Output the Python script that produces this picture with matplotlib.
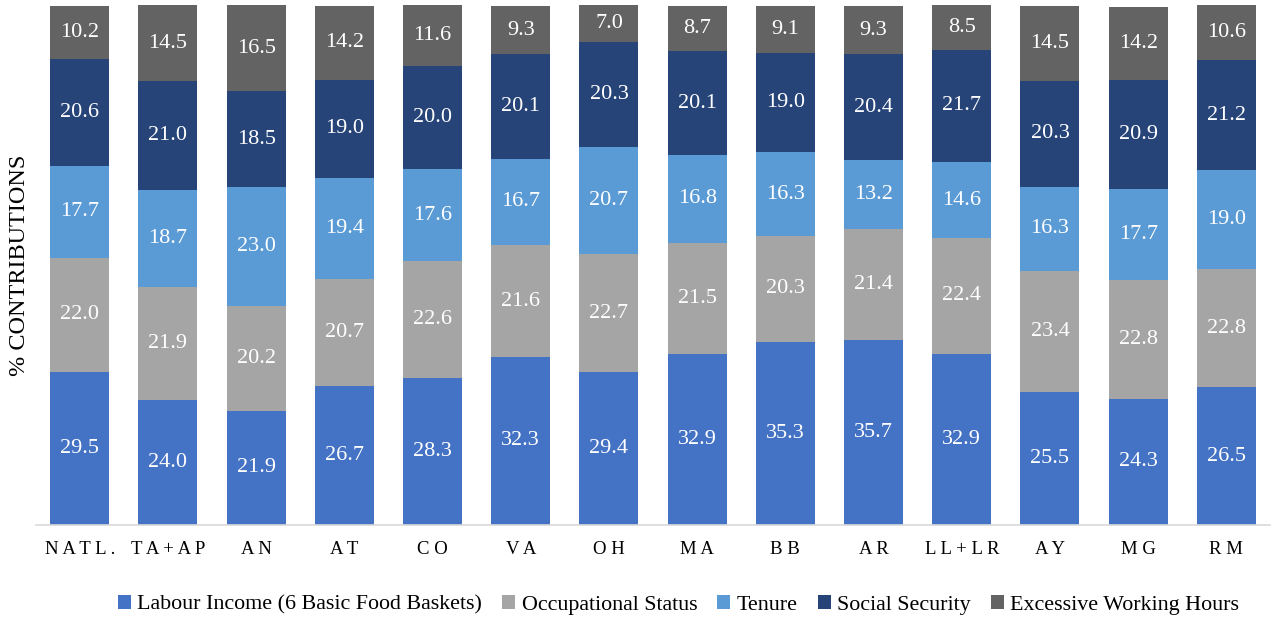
import matplotlib
matplotlib.use('Agg')
import matplotlib.pyplot as plt
import numpy as np

regions = ["NATL.", "TA+AP", "AN", "AT", "CO", "VA", "OH", "MA", "BB", "AR",
           "LL+LR", "AY", "MG", "RM"]
series = ["Labour Income (6 Basic Food Baskets)", "Occupational Status", "Tenure",
          "Social Security", "Excessive Working Hours"]
labour = [29.5, 24.0, 21.9, 26.7, 28.3, 32.3, 29.4, 32.9, 35.3, 35.7, 32.9, 25.5, 24.3, 26.5]
occupational = [22.0, 21.9, 20.2, 20.7, 22.6, 21.6, 22.7, 21.5, 20.3, 21.4, 22.4, 23.4, 22.8, 22.8]
tenure = [17.7, 18.7, 23.0, 19.4, 17.6, 16.7, 20.7, 16.8, 16.3, 13.2, 14.6, 16.3, 17.7, 19.0]
social = [20.6, 21.0, 18.5, 19.0, 20.0, 20.1, 20.3, 20.1, 19.0, 20.4, 21.7, 20.3, 20.9, 21.2]
excessive = [10.2, 14.5, 16.5, 14.2, 11.6, 9.3, 7.0, 8.7, 9.1, 9.3, 8.5, 14.5, 14.2, 10.6]

COLORS = ['#4472C4', '#A5A5A5', '#5B9BD5', '#264478', '#636363']
SERIF = ['Liberation Serif', 'DejaVu Serif']

fig = plt.figure(figsize=(12.73, 6.21), dpi=100)
ax = fig.add_axes([0.028, 0.155, 0.97, 0.837])

x = np.arange(len(regions))
bottom = np.zeros(len(regions))
for name, vals, col in zip(series, [labour, occupational, tenure, social, excessive], COLORS):
    vals = np.array(vals)
    ax.bar(x, vals, 0.67, bottom=bottom, color=col, label=name)
    for xi, b, v in zip(x, bottom, vals):
        ax.text(xi, b + v / 2, f'{v:.1f}', ha='center', va='center',
                color='white', fontsize=16, family=SERIF)
    bottom += vals

ax.set_xlim(-0.5, len(regions) - 0.5)
ax.set_ylim(0, 100.2)
ax.set_yticks([])
ax.set_xticks(x)
ax.set_xticklabels([' '.join(r) for r in regions], family=SERIF, fontsize=13.5)
ax.tick_params(axis='x', length=0, pad=12)
for s in ['top', 'right', 'left']:
    ax.spines[s].set_visible(False)
ax.spines['bottom'].set_color('#D9D9D9')
ax.spines['bottom'].set_linewidth(1.2)
ax.set_ylabel('% CONTRIBUTIONS', family=SERIF, fontsize=17.5, labelpad=4)

fig.legend(loc='lower center', bbox_to_anchor=(0.533, -0.022), ncol=5, frameon=False,
           prop={'family': SERIF, 'size': 15.8}, handlelength=0.6, handleheight=0.6,
           handletextpad=0.3, columnspacing=0.9)

plt.savefig('out.png', dpi=100)
